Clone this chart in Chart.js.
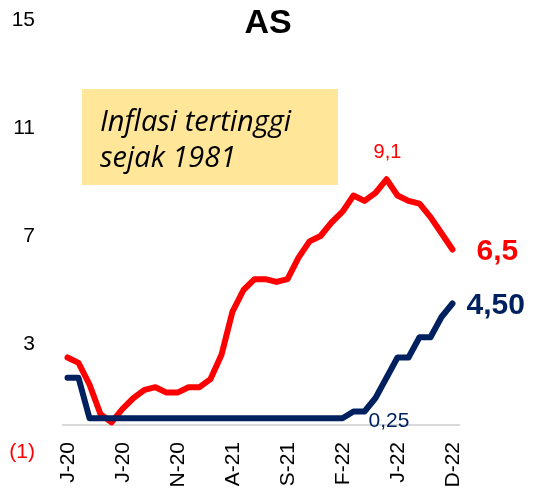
<!DOCTYPE html>
<html>
<head>
<meta charset="utf-8">
<script src="https://cdn.jsdelivr.net/npm/chart.js@4.4.1/dist/chart.umd.min.js"></script>
<style>
  body { margin: 0; background: #fff; }
  canvas { display: block; }
</style>
</head>
<body>
<canvas id="chart" width="538" height="501"></canvas>
<script>
// months Jan 2020 .. Dec 2022
const months = [
  'J-20','F-20','M-20','A-20','M-20','J-20','J-20','A-20','S-20','O-20','N-20','D-20',
  'J-21','F-21','M-21','A-21','M-21','J-21','J-21','A-21','S-21','O-21','N-21','D-21',
  'J-22','F-22','M-22','A-22','M-22','J-22','J-22','A-22','S-22','O-22','N-22','D-22'
];
// US CPI inflation, % yoy
const inflasi = [
  2.5, 2.3, 1.5, 0.4, 0.1, 0.6, 1.0, 1.3, 1.4, 1.2, 1.2, 1.4,
  1.4, 1.7, 2.6, 4.2, 5.0, 5.4, 5.4, 5.3, 5.4, 6.2, 6.8, 7.0,
  7.5, 7.9, 8.5, 8.3, 8.6, 9.1, 8.5, 8.3, 8.2, 7.7, 7.1, 6.5
];
// Fed funds rate (upper bound), %
const fedRate = [
  1.75, 1.75, 0.25, 0.25, 0.25, 0.25, 0.25, 0.25, 0.25, 0.25, 0.25, 0.25,
  0.25, 0.25, 0.25, 0.25, 0.25, 0.25, 0.25, 0.25, 0.25, 0.25, 0.25, 0.25,
  0.25, 0.25, 0.5, 0.5, 1.0, 1.75, 2.5, 2.5, 3.25, 3.25, 4.0, 4.5
];
const yTicks = [-1, 3, 7, 11, 15];
const labelEvery = 5;

const RED = '#FF0000';
const NAVY = '#002060';
const FONT = "'Liberation Sans', Arial, sans-serif";

// extra drawing: title, note box, zero line, x labels, value labels
const extras = {
  id: 'extras',
  beforeDatasetsDraw(chart) {
    const ctx = chart.ctx;
    const x = chart.scales.x, y = chart.scales.y;
    const y0 = y.getPixelForValue(0);
    ctx.save();
    ctx.strokeStyle = '#D9D9D9';
    ctx.lineWidth = 2;
    ctx.beginPath();
    ctx.moveTo(chart.chartArea.left, y0);
    ctx.lineTo(chart.chartArea.right + 2, y0);
    ctx.stroke();

    // note box
    ctx.fillStyle = '#FFE699';
    ctx.fillRect(82, 89, 256, 96);
    ctx.fillStyle = '#000';
    ctx.font = "italic 29px 'Open Sans', sans-serif";
    ctx.textAlign = 'left';
    ctx.textBaseline = 'alphabetic';
    ctx.fillText('Inflasi tertinggi', 100, 131);
    ctx.fillText('sejak 1981', 100, 167);

    // x labels, rotated
    ctx.fillStyle = '#000';
    ctx.font = '21px ' + FONT;
    ctx.textAlign = 'right';
    ctx.textBaseline = 'middle';
    months.forEach((m, i) => {
      if (i % labelEvery !== 0) return;
      const px = x.getPixelForValue(i);
      ctx.save();
      ctx.translate(px, y0 + 17);
      ctx.rotate(-Math.PI / 2);
      ctx.fillText(m, 0, 1);
      ctx.restore();
    });

    // title
    ctx.font = 'bold 34px ' + FONT;
    ctx.textAlign = 'center';
    ctx.fillText('AS', 268, 24);
    ctx.restore();
  },
  afterDatasetsDraw(chart) {
    const ctx = chart.ctx;
    const red = chart.getDatasetMeta(0).data;
    const blue = chart.getDatasetMeta(1).data;
    const peak = inflasi.indexOf(Math.max(...inflasi));
    const last = inflasi.length - 1;
    ctx.save();
    ctx.textBaseline = 'middle';

    ctx.fillStyle = RED;
    ctx.font = '20px ' + FONT;
    ctx.textAlign = 'center';
    ctx.fillText(inflasi[peak].toFixed(1).replace('.', ','), red[peak].x + 1, red[peak].y - 27);

    ctx.font = 'bold 30px ' + FONT;
    ctx.textAlign = 'left';
    ctx.fillText(inflasi[last].toFixed(1).replace('.', ','), red[last].x + 24, red[last].y + 2);

    ctx.fillStyle = NAVY;
    ctx.fillText(fedRate[last].toFixed(2).replace('.', ','), blue[last].x + 14, blue[last].y + 2);

    const lowIdx = 27;
    ctx.font = '21px ' + FONT;
    ctx.fillText('0,25', blue[lowIdx].x + 4, chart.scales.y.getPixelForValue(0.25) + 3);
    ctx.restore();
  }
};

new Chart(document.getElementById('chart'), {
  type: 'line',
  data: {
    labels: months,
    datasets: [
      {
        label: 'Inflasi',
        data: inflasi,
        borderColor: RED,
        borderWidth: 6,
        pointRadius: 0,
        borderJoinStyle: 'round',
        borderCapStyle: 'round',
        tension: 0,
        order: 2
      },
      {
        label: 'Fed rate',
        data: fedRate,
        borderColor: NAVY,
        borderWidth: 6,
        pointRadius: 0,
        borderJoinStyle: 'round',
        borderCapStyle: 'round',
        tension: 0,
        order: 1
      }
    ]
  },
  options: {
    responsive: false,
    animation: false,
    layout: { padding: { top: 20, bottom: 49, left: 0, right: 80 } },
    plugins: {
      legend: { display: false },
      tooltip: { enabled: false }
    },
    scales: {
      x: {
        display: false,
        offset: true
      },
      y: {
        min: -1,
        max: 15,
        afterFit(scale) {
          scale.width = 62;
          scale.paddingTop = 0;
          scale.paddingBottom = 0;
        },
        afterBuildTicks(scale) { scale.ticks = yTicks.map(v => ({ value: v })); },
        grid: { display: false, drawTicks: false },
        border: { display: false },
        ticks: {
          padding: 27,
          font: { family: FONT, size: 21 },
          color: ctx => ctx.tick.value < 0 ? RED : '#000',
          callback: v => v < 0 ? '(' + Math.abs(v) + ')' : String(v)
        }
      }
    }
  },
  plugins: [extras]
});
</script>
</body>
</html>
